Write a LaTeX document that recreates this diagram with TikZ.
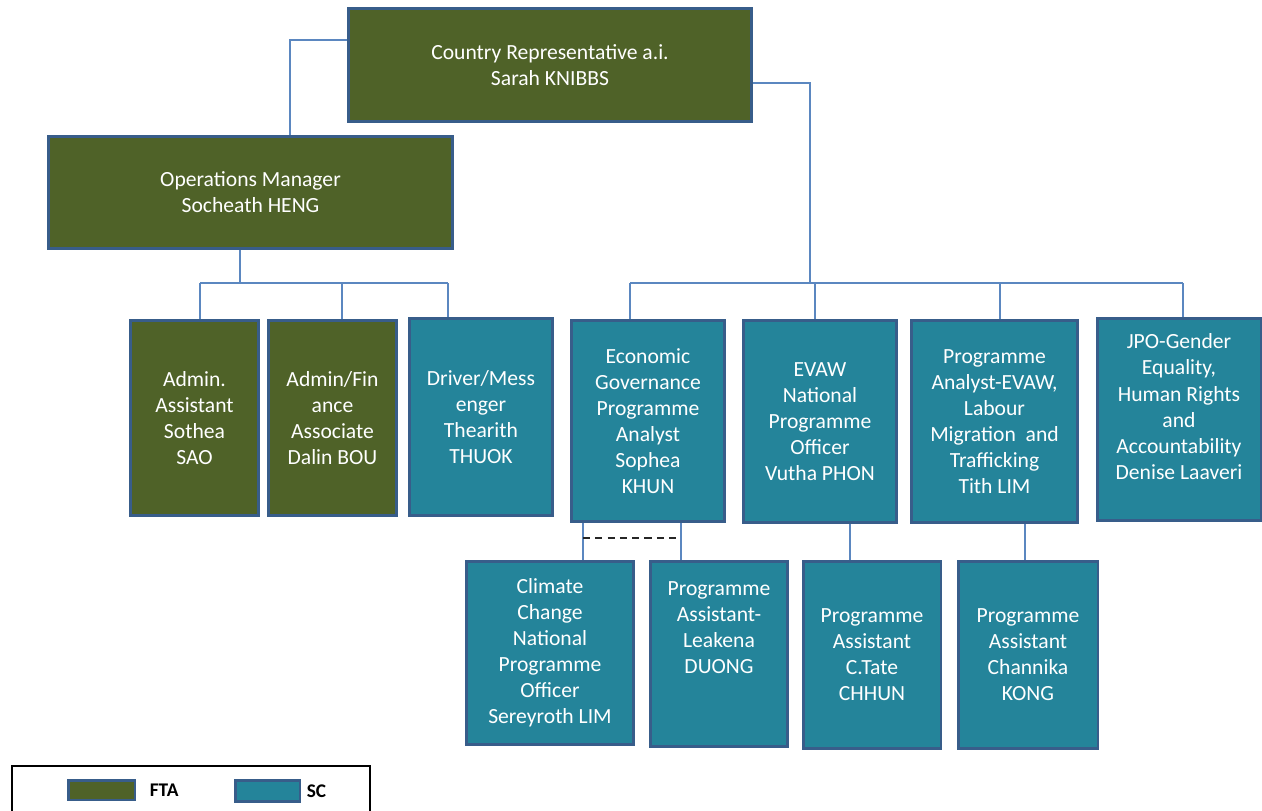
\documentclass[tikz,border=0pt]{standalone}
\usepackage{fontspec}
\setmainfont{Carlito}
\usetikzlibrary{positioning,calc}
\definecolor{ftagreen}{HTML}{4F6228}
\definecolor{scteal}{HTML}{24849A}
\definecolor{boxblue}{HTML}{385D8A}
\definecolor{linkblue}{HTML}{5B87C0}
\tikzset{
  box/.style={draw=boxblue, line width=1.7pt, text=white, align=center, inner sep=0pt,
    font=\fontsize{12.3}{14.8}\selectfont},
  fta/.style={box, fill=ftagreen},
  sc/.style={box, fill=scteal},
  link/.style={draw=linkblue, line width=0.9pt},
  keytext/.style={inner sep=0pt, font=\fontsize{11}{13}\selectfont\bfseries}
}

\begin{document}
\begin{tikzpicture}[x=0.02cm, y=-0.02cm]
\useasboundingbox (0,0) rectangle (1262,811);
% top level
\node[fta, minimum width=8.08cm, minimum height=2.28cm] (rep) at (550,65)
  {Country Representative a.i.\\Sarah KNIBBS};
\node[fta, minimum width=8.10cm, minimum height=2.26cm] (opman) at (250.5,192.5)
  {Operations Manager\\Socheath HENG};
% operations staff
\node[fta, minimum width=2.58cm, minimum height=3.92cm] (sao) at (194.5,418)
  {Admin.\\Assistant\\Sothea\\SAO};
\node[fta, minimum width=2.58cm, minimum height=3.92cm] (bou) at (332.5,418)
  {Admin/Fin\\ance\\Associate\\Dalin BOU};
\node[sc, minimum width=2.88cm, minimum height=3.96cm] (thuok) at (481,417)
  {Driver/Mess\\enger\\Thearith\\THUOK};
% programme staff
\node[sc, minimum width=3.08cm, minimum height=4.04cm] (khun) at (648,421)
  {Economic\\Governance\\Programme\\Analyst\\Sophea\\KHUN};
\node[sc, minimum width=3.08cm, minimum height=4.06cm] (phon) at (820,421.5)
  {EVAW\\National\\Programme\\Officer\\Vutha PHON};
\node[sc, minimum width=3.34cm, minimum height=4.06cm] (lim) at (994.5,421.5)
  {Programme\\Analyst-EVAW,\\Labour\\Migration\ \ and\\Trafficking\\Tith LIM};
\node[sc, minimum width=3.28cm, minimum height=4.06cm] (laaveri) at (1179,419.5)
  {JPO-Gender\\Equality,\\Human Rights\\and\\Accountability\\Denise Laaveri\\~};
% assistants
\node[sc, minimum width=3.36cm, minimum height=3.68cm] (sereyroth) at (550,653)
  {Climate\\Change\\National\\Programme\\Officer\\Sereyroth LIM};
\node[sc, minimum width=2.76cm, minimum height=3.72cm] (duong) at (719,654)
  {Programme\\Assistant-\\Leakena\\DUONG\\~\\~};
\node[sc, minimum width=2.76cm, minimum height=3.76cm] (chhun) at (872,655)
  {Programme\\Assistant\\C.Tate\\CHHUN};
\node[sc, minimum width=2.80cm, minimum height=3.76cm] (kong) at (1028,655)
  {Programme\\Assistant\\Channika\\KONG};

% connectors
\draw[link] (rep.west |- 0,40) -| (opman.north -| 290,0);
\draw[link] (rep.east |- 0,83) -| (810,283);
\draw[link] (630,283) -- (1183,283);
\foreach \n/\x in {khun/630, phon/815, lim/1000, laaveri/1183}
  \draw[link] (\x,283) -- (\n.north -| \x,0);
\draw[link] (opman.south -| 240,0) -- (240,283);
\draw[link] (200,283) -- (448,283);
\foreach \n/\x in {sao/200, bou/342, thuok/448}
  \draw[link] (\x,283) -- (\n.north -| \x,0);
\draw[link] (khun.south -| 583,0) -- (sereyroth.north -| 583,0);
\draw[link] (khun.south -| 681,0) -- (duong.north -| 681,0);
\draw[black!85, line width=1pt, dash pattern=on 4pt off 3pt] (583,538) -- (681,538);
\draw[link] (phon.south -| 850,0) -- (chhun.north -| 850,0);
\draw[link] (lim.south -| 1025,0) -- (kong.north -| 1025,0);

% legend
\draw[black, line width=0.9pt] (12,766) rectangle (370,830);
\node[fta, minimum width=1.34cm, minimum height=0.40cm] (ftakey) at (101.5,790) {};
\node[keytext, right=0.26cm of ftakey] (ftalabel) {FTA};
\node[sc, minimum width=1.30cm, minimum height=0.42cm] (sckey) at (267.5,791) {};
\node[keytext, right=0.1cm of sckey] (sclabel) {SC};
\end{tikzpicture}
\end{document}
